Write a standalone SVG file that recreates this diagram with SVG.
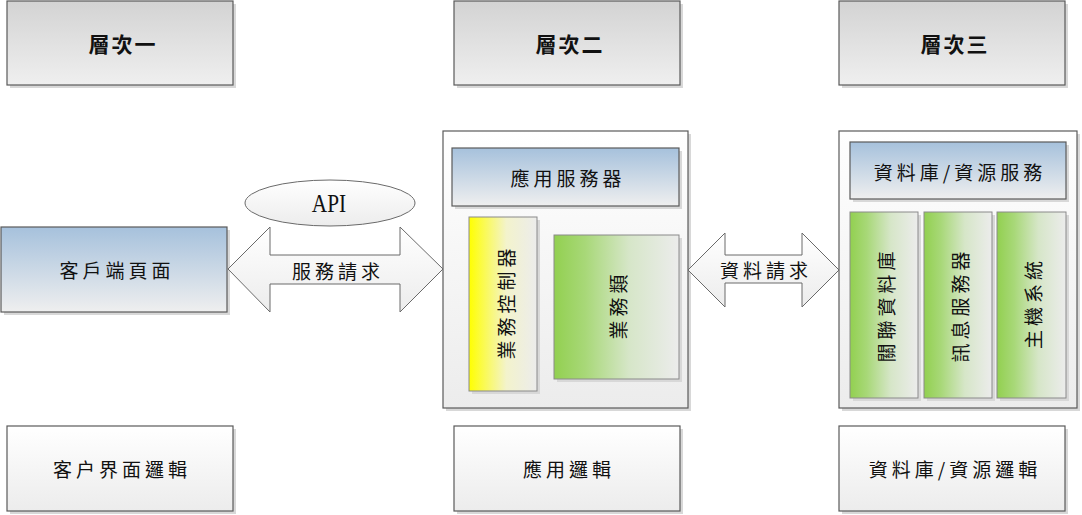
<svg xmlns="http://www.w3.org/2000/svg" width="1082" height="515" viewBox="0 0 1082 515">
<defs>
<linearGradient id="gGray" x1="0" y1="0" x2="0" y2="1"><stop offset="0" stop-color="#d3d3d3"/><stop offset="1" stop-color="#efefef"/></linearGradient>
<linearGradient id="gBlue" x1="0" y1="0" x2="0" y2="1"><stop offset="0" stop-color="#a6c1dc"/><stop offset="1" stop-color="#efefef"/></linearGradient>
<linearGradient id="gWhite" x1="0" y1="0" x2="0" y2="1"><stop offset="0" stop-color="#ffffff"/><stop offset="1" stop-color="#ececec"/></linearGradient>
<linearGradient id="gYellow" x1="0" y1="0" x2="1" y2="0"><stop offset="0" stop-color="#ffff00"/><stop offset="0.55" stop-color="#f3f3cc"/><stop offset="1" stop-color="#ececec"/></linearGradient>
<linearGradient id="gGreen" x1="0" y1="0" x2="1" y2="0"><stop offset="0" stop-color="#92d050"/><stop offset="0.25" stop-color="#a8d878"/><stop offset="0.6" stop-color="#d6e6c8"/><stop offset="1" stop-color="#ececec"/></linearGradient>
</defs>
<style>
.sh{fill:#d8d8d8;}
.box{stroke:#5a5a5a;stroke-width:1.2;}
.lbox{stroke:#8a8a8a;stroke-width:1;}
.t{font-family:"Noto Sans CJK TC","Noto Sans CJK SC",sans-serif;font-size:19px;fill:#111;text-anchor:middle;dominant-baseline:central;letter-spacing:4px;}
.b{font-weight:bold;font-size:21px;letter-spacing:2px;}
.api{font-family:"Liberation Serif",serif;font-size:25px;fill:#111;text-anchor:middle;dominant-baseline:central;}
.arrow{fill:url(#gWhite);stroke:#6a6a6a;stroke-width:1;}
</style>
<rect width="1082" height="515" fill="#ffffff"/>

<g id="layer1">
<rect class="sh" x="10" y="4" width="226" height="84"/>
<rect class="box" x="7" y="1" width="226" height="84" fill="url(#gGray)"/>
<text class="t b" x="123" y="43">層次一</text>
</g>
<g id="layer2">
<rect class="sh" x="457" y="4" width="226" height="84"/>
<rect class="box" x="454" y="1" width="226" height="84" fill="url(#gGray)"/>
<text class="t b" x="570" y="43">層次二</text>
</g>
<g id="layer3">
<rect class="sh" x="842" y="4" width="226" height="84"/>
<rect class="box" x="839" y="1" width="226" height="84" fill="url(#gGray)"/>
<text class="t b" x="955" y="43">層次三</text>
</g>

<g id="client-page">
<rect class="sh" x="4" y="230" width="226" height="85"/>
<rect class="box" x="1" y="227" width="226" height="85" fill="url(#gBlue)"/>
<text class="t" x="117" y="269">客戶端頁面</text>
</g>

<g id="api">
<ellipse cx="330" cy="203" rx="85" ry="23" fill="url(#gWhite)" stroke="#6a6a6a" stroke-width="1"/>
<text class="api" x="329" y="203" transform="translate(329 203) scale(0.85 1) translate(-329 -203)">API</text>
</g>

<g id="app-server">
<rect class="sh" x="446" y="134" width="245" height="277"/>
<rect class="box" x="443" y="131" width="245" height="277" fill="url(#gWhite)"/>
<g id="app-server-header">
<rect class="sh" x="455" y="151" width="227" height="58"/>
<rect class="box" x="452" y="148" width="227" height="58" fill="url(#gBlue)"/>
<text class="t" x="568" y="177">應用服務器</text>
</g>
<g id="business-controller">
<rect class="sh" x="472" y="220" width="68" height="174"/>
<rect class="lbox" x="469" y="217" width="68" height="174" fill="url(#gYellow)"/>
<text class="t" transform="translate(505 302) rotate(-90)">業務控制器</text>
</g>
<g id="business-class">
<rect class="sh" x="557" y="238" width="125" height="144"/>
<rect class="lbox" x="554" y="235" width="125" height="144" fill="url(#gGreen)"/>
<text class="t" transform="translate(617 305) rotate(-90)">業務類</text>
</g>
</g>

<g id="db-service">
<rect class="sh" x="842" y="134" width="238" height="277"/>
<rect class="box" x="839" y="131" width="238" height="277" fill="url(#gWhite)"/>
<g id="db-service-header">
<rect class="sh" x="853" y="145" width="216" height="57"/>
<rect class="box" x="850" y="142" width="216" height="57" fill="url(#gBlue)"/>
<text class="t" x="960" y="171">資料庫/資源服務</text>
</g>
<g id="rdb">
<rect class="sh" x="853" y="215" width="68" height="186"/>
<rect class="lbox" x="850" y="212" width="68" height="186" fill="url(#gGreen)"/>
<text class="t" transform="translate(885 305) rotate(-90)">關聯資料庫</text>
</g>
<g id="msg-server">
<rect class="sh" x="927" y="215" width="68" height="186"/>
<rect class="lbox" x="924" y="212" width="68" height="186" fill="url(#gGreen)"/>
<text class="t" transform="translate(959 305) rotate(-90)">訊息服務器</text>
</g>
<g id="host-system">
<rect class="sh" x="1000" y="215" width="69" height="186"/>
<rect class="lbox" x="997" y="212" width="69" height="186" fill="url(#gGreen)"/>
<text class="t" transform="translate(1032 303) rotate(-90)">主機系統</text>
</g>
</g>

<g id="client-ui-logic">
<rect class="sh" x="10" y="429" width="226" height="85"/>
<rect class="box" x="7" y="426" width="226" height="85" fill="url(#gWhite)"/>
<text class="t" x="122" y="468">客户界面邏輯</text>
</g>
<g id="app-logic">
<rect class="sh" x="457" y="429" width="226" height="85"/>
<rect class="box" x="454" y="426" width="226" height="85" fill="url(#gWhite)"/>
<text class="t" x="569" y="468">應用邏輯</text>
</g>
<g id="db-logic">
<rect class="sh" x="842" y="429" width="226" height="85"/>
<rect class="box" x="839" y="426" width="226" height="85" fill="url(#gWhite)"/>
<text class="t" x="955" y="468">資料庫/資源邏輯</text>
</g>

<g id="connectors">
<g id="service-request">
<polygon class="arrow" points="228,269 270,227 270,255 400,255 400,227 443,269 400,312 400,284 270,284 270,312"/>
<text class="t" x="338" y="270">服務請求</text>
</g>
<g id="data-request">
<polygon class="arrow" points="688,270 725,233 725,255 802,255 802,233 839,270 802,307 802,283 725,283 725,307"/>
<text class="t" x="766" y="269">資料請求</text>
</g>
</g>
</svg>
